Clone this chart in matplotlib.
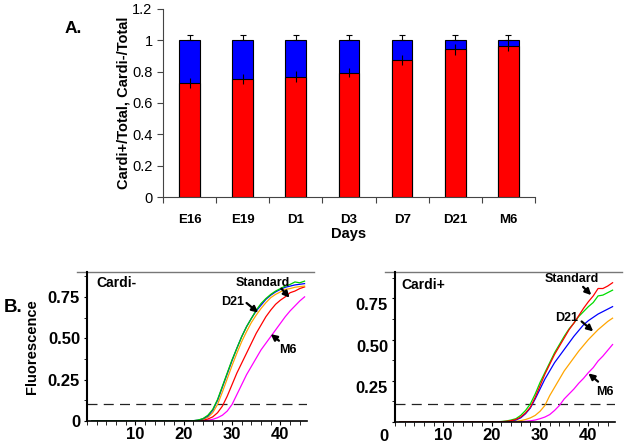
import numpy as np
import matplotlib
matplotlib.use("Agg")
import matplotlib.pyplot as plt
from matplotlib.ticker import MultipleLocator, FixedLocator
from matplotlib.lines import Line2D
import matplotlib.transforms as mtransforms

plt.rcParams['font.family'] = ['Liberation Sans', 'DejaVu Sans']

# ---- panel A data ----
days = ['E16', 'E19', 'D1', 'D3', 'D7', 'D21', 'M6']
cardi_pos = [0.73, 0.752, 0.769, 0.794, 0.875, 0.943, 0.966]
cardi_pos_err = [0.032, 0.032, 0.034, 0.030, 0.030, 0.035, 0.037]
total = [1.0, 1.0, 1.0, 1.0, 1.0, 1.0, 1.0]
total_err = [0.033, 0.033, 0.033, 0.033, 0.033, 0.033, 0.033]

# ---- panel B data (fluorescence vs cycle) ----
cycles = [1] + list(range(20, 46))
minus_green = [0, 0, 0.001, 0.002, 0.006, 0.015, 0.035, 0.07, 0.13, 0.21, 0.29, 0.37, 0.44, 0.51,
               0.57, 0.62, 0.67, 0.71, 0.74, 0.765, 0.785, 0.80, 0.815, 0.825, 0.84, 0.835, 0.845]
minus_blue = [0, 0, 0.001, 0.002, 0.005, 0.013, 0.03, 0.065, 0.125, 0.205, 0.285, 0.365, 0.44, 0.51,
              0.57, 0.62, 0.665, 0.70, 0.735, 0.76, 0.78, 0.795, 0.808, 0.815, 0.822, 0.826, 0.83]
minus_orange = [0, 0, 0, 0.001, 0.004, 0.01, 0.022, 0.05, 0.10, 0.175, 0.255, 0.335, 0.41, 0.48,
                0.54, 0.595, 0.64, 0.68, 0.715, 0.745, 0.765, 0.78, 0.795, 0.80, 0.808, 0.812, 0.815]
minus_red = [0, 0, 0, 0, 0.002, 0.005, 0.012, 0.025, 0.05, 0.09, 0.15, 0.22, 0.29, 0.35,
             0.41, 0.47, 0.53, 0.58, 0.63, 0.67, 0.705, 0.73, 0.75, 0.775, 0.785, 0.80, 0.81]
minus_magenta = [0, 0, 0, 0, 0, 0.002, 0.005, 0.01, 0.02, 0.035, 0.06, 0.10, 0.16, 0.22,
                 0.28, 0.33, 0.38, 0.43, 0.47, 0.51, 0.55, 0.59, 0.63, 0.665, 0.695, 0.725, 0.75]

plus_red = [0, 0, 0, 0.002, 0.004, 0.008, 0.015, 0.03, 0.055, 0.09, 0.15, 0.22, 0.29, 0.35,
            0.41, 0.46, 0.51, 0.56, 0.60, 0.645, 0.69, 0.73, 0.765, 0.81, 0.81, 0.825, 0.845]
plus_green = [0, 0, 0.001, 0.003, 0.006, 0.012, 0.02, 0.04, 0.07, 0.11, 0.17, 0.24, 0.30, 0.36,
              0.42, 0.47, 0.52, 0.565, 0.60, 0.64, 0.67, 0.70, 0.725, 0.765, 0.77, 0.785, 0.80]
plus_blue = [0, 0, 0, 0.001, 0.003, 0.006, 0.012, 0.025, 0.05, 0.085, 0.14, 0.20, 0.26, 0.31,
             0.36, 0.40, 0.44, 0.48, 0.52, 0.555, 0.59, 0.615, 0.635, 0.655, 0.67, 0.685, 0.70]
plus_orange = [0, 0, 0, 0, 0, 0.002, 0.004, 0.008, 0.015, 0.025, 0.04, 0.065, 0.10, 0.16,
               0.21, 0.26, 0.31, 0.35, 0.39, 0.43, 0.465, 0.50, 0.53, 0.56, 0.585, 0.61, 0.63]
plus_magenta = [0, 0, 0, 0, 0, 0, 0, 0.002, 0.004, 0.007, 0.012, 0.02, 0.03, 0.045,
                0.07, 0.10, 0.14, 0.17, 0.20, 0.235, 0.265, 0.30, 0.33, 0.37, 0.40, 0.435, 0.47]

threshold_minus = 0.10
threshold_plus = 0.11

fig = plt.figure(figsize=(6.26, 4.45), dpi=100)

# ---------------- panel A ----------------
axA = fig.add_axes([0.2604, 0.5573, 0.5942, 0.4225])
x = np.arange(len(days))
w = 0.39
axA.bar(x, total, w, color='#0000ff', edgecolor='black', linewidth=0.8, zorder=2)
axA.bar(x, cardi_pos, w, color='#ff0000', edgecolor='black', linewidth=0.8, zorder=3)
axA.errorbar(x, total, yerr=[np.zeros(len(x)), total_err], fmt='none', ecolor='black',
             elinewidth=0.8, capsize=2.5, capthick=0.8, zorder=4)
axA.errorbar(x, cardi_pos, yerr=cardi_pos_err, fmt='none', ecolor='black',
             elinewidth=0.8, capsize=0, zorder=4)
axA.set_xlim(-0.5, len(days) - 0.5)
axA.set_ylim(0, 1.2)
axA.set_yticks([0, 0.2, 0.4, 0.6, 0.8, 1.0, 1.2])
axA.set_yticklabels(['0', '0.2', '0.4', '0.6', '0.8', '1', '1.2'], fontsize=10.5)
axA.set_xticks(x)
axA.set_xticklabels(days, fontsize=9.5, fontweight='bold')
axA.xaxis.set_minor_locator(FixedLocator(np.arange(-0.5, len(days), 1.0)))
axA.tick_params(axis='x', which='major', length=0, pad=12)
axA.tick_params(axis='x', which='minor', length=4, direction='out', width=0.8, color='#444444')
axA.tick_params(axis='y', length=4, direction='out', width=0.8, color='#444444')
for s in ['top', 'right']:
    axA.spines[s].set_visible(False)
axA.spines['left'].set_color('#444444')
axA.spines['bottom'].set_color('#444444')
axA.set_ylabel('Cardi+/Total, Cardi-/Total', fontsize=10.5, fontweight='bold', labelpad=1)
axA.set_xlabel('Days', fontsize=10.5, fontweight='bold', labelpad=1)
fig.text(0.117, 0.936, 'A.', fontsize=12.5, fontweight='bold', ha='center', va='center')


# ---------------- panel B ----------------
def style_qpcr(ax, ytop, threshold):
    ax.set_xlim(0, 45.5)
    ax.set_ylim(0, ytop)
    ax.axhline(threshold, color='#222222', lw=0.9, dashes=(8, 5), zorder=1)
    ax.set_xticks([10, 20, 30, 40])
    ax.xaxis.set_minor_locator(MultipleLocator(2))
    ax.set_yticks([0, 0.25, 0.5, 0.75])
    ax.set_yticklabels(['0', '0.25', '0.50', '0.75'])
    ax.yaxis.set_minor_locator(MultipleLocator(0.125))
    for lab in ax.get_xticklabels() + ax.get_yticklabels():
        lab.set_fontsize(12)
        lab.set_fontweight('bold')
    ax.tick_params(axis='x', which='major', length=3, direction='out', pad=1)
    ax.tick_params(axis='x', which='minor', length=3, direction='out')
    ax.tick_params(axis='y', which='both', length=2, direction='out', pad=3)
    for s in ['top', 'right']:
        ax.spines[s].set_visible(False)
    ax.spines['left'].set_linewidth(1.5)
    ax.spines['bottom'].set_linewidth(1.2)
    ax.add_line(Line2D([-0.045, 1.03], [1, 1], transform=ax.transAxes, color='#777777',
                       lw=1.0, clip_on=False))


def arrow(ax, tail, head):
    ax.annotate('', xy=head, xytext=tail,
                arrowprops=dict(arrowstyle='-|>', color='black', lw=1.6,
                                mutation_scale=9, shrinkA=0, shrinkB=0))


axL = fig.add_axes([0.139, 0.0539, 0.3514, 0.3348])
axL.plot(cycles, minus_magenta, color='#ff00ff', lw=0.9)
axL.plot(cycles, minus_red, color='#ff0000', lw=0.9)
axL.plot(cycles, minus_orange, color='#ffa500', lw=0.9)
axL.plot(cycles, minus_blue, color='#0000ff', lw=0.9)
axL.plot(cycles, minus_green, color='#00cc00', lw=0.9)
style_qpcr(axL, 0.9, threshold_minus)
axL.set_ylabel('Fluorescence', fontsize=10.5, fontweight='bold', labelpad=6)
axL.text(2.0, 0.835, 'Cardi-', fontsize=10, fontweight='bold', ha='left', va='center')
axL.text(36.4, 0.835, 'Standard', fontsize=9, fontweight='bold', ha='center', va='center')
arrow(axL, (40.2, 0.80), (41.9, 0.745))
axL.text(30.2, 0.72, 'D21', fontsize=9, fontweight='bold', ha='center', va='center')
arrow(axL, (33.0, 0.713), (35.4, 0.655))
axL.text(41.6, 0.43, 'M6', fontsize=9, fontweight='bold', ha='center', va='center')
arrow(axL, (39.7, 0.485), (38.0, 0.525))

axR = fig.add_axes([0.631, 0.0517, 0.3514, 0.337])
axR.plot(cycles, plus_magenta, color='#ff00ff', lw=0.9)
axR.plot(cycles, plus_orange, color='#ffa500', lw=0.9)
axR.plot(cycles, plus_blue, color='#0000ff', lw=0.9)
axR.plot(cycles, plus_green, color='#00dd00', lw=0.9)
axR.plot(cycles, plus_red, color='#ff0000', lw=0.9)
style_qpcr(axR, 0.91, threshold_plus)
# the y labels sit a little low on this panel, the "0" lowest
shift = mtransforms.ScaledTranslation(0, -6 / 100, fig.dpi_scale_trans)
shift0 = mtransforms.ScaledTranslation(0, -13 / 100, fig.dpi_scale_trans)
for i, lab in enumerate(axR.get_yticklabels()):
    lab.set_transform(lab.get_transform() + (shift0 if i == 0 else shift))
axR.text(1.4, 0.83, 'Cardi+', fontsize=10, fontweight='bold', ha='left', va='center')
axR.text(36.5, 0.87, 'Standard', fontsize=9, fontweight='bold', ha='center', va='center')
arrow(axR, (38.9, 0.82), (40.6, 0.77))
axR.text(35.5, 0.63, 'D21', fontsize=9, fontweight='bold', ha='center', va='center')
arrow(axR, (38.6, 0.61), (41.0, 0.55))
axR.text(43.4, 0.18, 'M6', fontsize=9, fontweight='bold', ha='center', va='center')
arrow(axR, (42.0, 0.245), (40.0, 0.295))

fig.text(0.021, 0.308, 'B.', fontsize=13.5, fontweight='bold', ha='center', va='center')

fig.savefig('out.png', dpi=100)
